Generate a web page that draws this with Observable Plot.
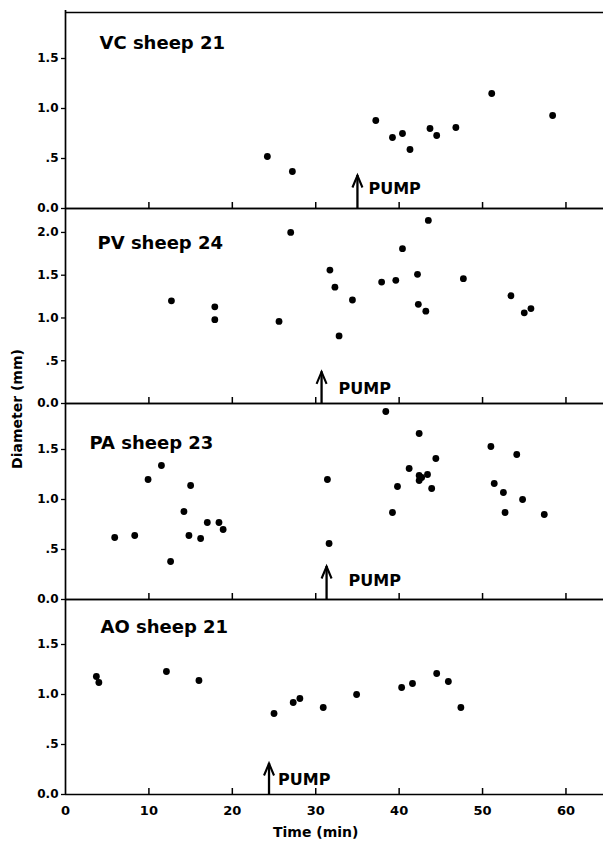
<!DOCTYPE html>
<html><head><meta charset="utf-8">
<script src="https://cdn.jsdelivr.net/npm/d3@7"></script>
<script src="https://cdn.jsdelivr.net/npm/@observablehq/plot@0.6"></script>
<style>
body{margin:0;background:#fff;}
#root{position:relative;width:603px;height:842px;overflow:hidden;font-family:"DejaVu Sans",Verdana,sans-serif;font-weight:bold;color:#000;}
svg.panel{position:absolute;left:0;background:transparent !important;overflow:visible;}
#ylab{position:absolute;left:17px;top:409px;transform:translate(-50%,-50%) rotate(-90deg);font-size:14px;white-space:nowrap;}
</style></head><body><div id="root"><div id="ylab">Diameter (mm)</div></div>
<script>
// ---- data ----
const titles = ["VC sheep 21", "PV sheep 24", "PA sheep 23", "AO sheep 21"];

const vcTime = [24.2, 27.2, 37.2, 39.2, 40.4, 41.3, 43.7, 44.5, 46.8, 51.1, 58.4];
const vcDiam = [0.52, 0.37, 0.88, 0.71, 0.75, 0.59, 0.80, 0.73, 0.81, 1.15, 0.93];

const pvTime = [12.7, 17.9, 17.9, 25.6, 27.0, 31.7, 32.3, 32.8, 34.4, 37.9, 39.6, 40.4, 42.2, 42.3, 43.2, 43.5, 47.7, 53.4, 55.0, 55.8];
const pvDiam = [1.20, 1.13, 0.98, 0.96, 2.00, 1.56, 1.36, 0.79, 1.21, 1.42, 1.44, 1.81, 1.51, 1.16, 1.08, 2.14, 1.46, 1.26, 1.06, 1.11];

const paTime = [5.9, 8.3, 9.9, 11.5, 12.6, 14.2, 14.8, 15.0, 16.2, 17.0, 18.4, 18.9, 31.4, 31.6, 38.4, 39.2, 39.8, 41.2, 42.4, 42.4, 42.4, 42.7, 43.4, 43.9, 44.4, 51.0, 51.4, 52.5, 52.7, 54.1, 54.8, 57.4];
const paDiam = [0.62, 0.64, 1.20, 1.34, 0.38, 0.88, 0.64, 1.14, 0.61, 0.77, 0.77, 0.70, 1.20, 0.56, 1.88, 0.87, 1.13, 1.31, 1.66, 1.24, 1.19, 1.22, 1.25, 1.11, 1.41, 1.53, 1.16, 1.07, 0.87, 1.45, 1.00, 0.85];

const aoTime = [3.7, 4.0, 12.1, 16.0, 25.0, 27.3, 28.1, 30.9, 34.9, 40.3, 41.6, 44.5, 45.9, 47.4];
const aoDiam = [1.18, 1.12, 1.23, 1.14, 0.81, 0.92, 0.96, 0.87, 1.00, 1.07, 1.11, 1.21, 1.13, 0.87];

const pumpTimes = [35.0, 30.7, 31.3, 24.4];
const arrowTops = [0.33, 0.37, 0.33, 0.31];

const xTicks = [10, 20, 30, 40, 50, 60];
const xTickLabels = ["0", "10", "20", "30", "40", "50", "60"];
const xLabelTicks = [0, 10, 20, 30, 40, 50, 60];
const yTickValues = [0, 0.5, 1.0, 1.5, 2.0];
const yTickLabels = ["0.0", ".5", "1.0", "1.5", "2.0"];
const yMaxes = [1.96, 2.28, 1.96, 1.95];
const xMax = 64.5;

// ---- layout (whole pixels) ----
const layout = [
  {top: 12,  bottom: 208, titleDx: 34, titleDy: 31, pumpDx: 11, pumpDy: -20},
  {top: 208, bottom: 403, titleDx: 32, titleDy: 35, pumpDx: 17, pumpDy: -15},
  {top: 403, bottom: 599, titleDx: 24, titleDy: 40, pumpDx: 22, pumpDy: -19},
  {top: 599, bottom: 794, titleDx: 35, titleDy: 28, pumpDx: 9,  pumpDy: -15}
];
const series = [[vcTime, vcDiam], [pvTime, pvDiam], [paTime, paDiam], [aoTime, aoDiam]];

const headShape = {draw(ctx) { ctx.moveTo(-5, 12); ctx.lineTo(0, 0); ctx.lineTo(5, 12); }};

const root = document.getElementById("root");
const mt = 4;
const ml = 65;
const lw = 1.7;
const tickLen = 6;

series.forEach(([time, diam], i) => {
  const L = layout[i];
  const last = i === series.length - 1;
  const mb = last ? 48 : 2;
  const frameH = L.bottom - L.top;
  const yMax = yMaxes[i];
  const tickTop = yMax * tickLen / frameH; // tick length in data units
  const ticks = yTickValues.filter(v => v <= yMax);
  const pts = time.map((t, j) => ({t, d: diam[j]}));
  const pump = [{t: pumpTimes[i], h: arrowTops[i]}];
  const marks = [
    Plot.ruleY([0], {stroke: "black", strokeWidth: lw}),
    Plot.ruleY([yMax], {stroke: "black", strokeWidth: lw}),
    Plot.ruleX([0], {stroke: "black", strokeWidth: lw, insetTop: i === 0 ? -2 : 0}),
    Plot.axisY(ticks, {tickSize: 4, tickPadding: 3, fontSize: 12, label: null,
      tickFormat: v => yTickLabels[yTickValues.indexOf(v)], strokeWidth: 1.3}),
    Plot.dot(pts, {x: "t", y: "d", r: 3.4, fill: "black", stroke: null}),
    Plot.ruleX(pump, {x: "t", y1: () => 0, y2: "h", stroke: "black", strokeWidth: 2.3}),
    Plot.vector(pump, {x: "t", y: "h", length: 12, rotate: 0, anchor: "start", shape: headShape,
      stroke: "black", strokeWidth: 2.1, fill: "none", strokeLinejoin: "miter", strokeLinecap: "butt"}),
    Plot.text(pump, {x: "t", y: () => 0, text: () => "PUMP", dx: L.pumpDx, dy: L.pumpDy,
      textAnchor: "start", lineAnchor: "middle", fontSize: 16, fontWeight: "bold", fill: "black"}),
    Plot.text([titles[i]], {frameAnchor: "top-left", text: d => d, dx: L.titleDx, dy: L.titleDy,
      textAnchor: "start", lineAnchor: "middle", fontSize: 18, fontWeight: "bold", fill: "black"}),
    // inward x ticks along the bottom edge
    Plot.ruleX(xTicks.map(v => ({v})), {x: "v", y1: () => 0, y2: () => tickTop, stroke: "black", strokeWidth: 1.5})
  ];
  if (last) {
    marks.push(Plot.axisX(xLabelTicks, {tickSize: 0, tickPadding: 11, fontSize: 13, label: null,
      tickFormat: v => xTickLabels[xLabelTicks.indexOf(v)]}));
    marks.push(Plot.text(["Time (min)"], {x: () => 30, frameAnchor: "bottom", dy: 38, text: d => d,
      fontSize: 14, fontWeight: "bold", fill: "black", lineAnchor: "middle"}));
  }
  const xOpts = {domain: [0, xMax], label: null};
  if (!last) xOpts.axis = null;
  const chart = Plot.plot({
    width: 603,
    height: frameH + mt + mb,
    marginLeft: ml, marginRight: 0, marginTop: mt, marginBottom: mb,
    x: xOpts,
    y: {domain: [0, yMax], label: null},
    style: {background: "transparent", overflow: "visible", fontFamily: "DejaVu Sans, Verdana, sans-serif",
      fontWeight: "bold", fontSize: "12px", color: "black"},
    marks
  });
  chart.classList.add("panel");
  chart.style.top = (L.top - mt) + "px";
  chart.style.position = "absolute";
  chart.style.left = "0px";
  chart.style.background = "transparent";
  root.appendChild(chart);
});
</script>
</body></html>
